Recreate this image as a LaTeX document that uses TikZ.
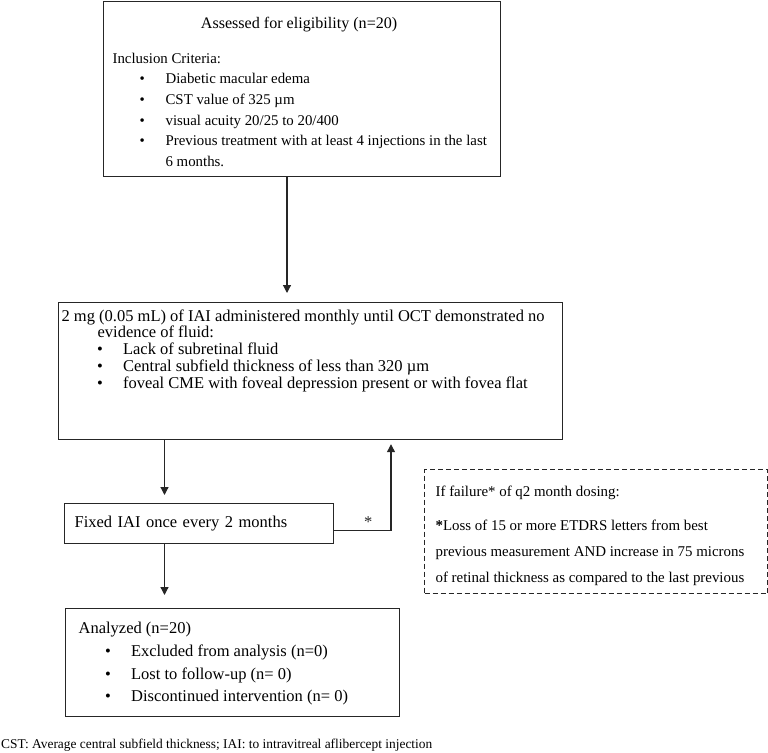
\documentclass[tikz,border=0pt]{standalone}
\usepackage{fontspec}
\setmainfont{Liberation Serif}
\usetikzlibrary{arrows.meta}

% bullet line inside a box
\newcommand{\bitem}[2][27pt]{\hspace*{#1}\makebox[26pt][l]{\textbullet}\mbox{#2}}

\begin{document}
\begin{tikzpicture}[x=1pt, y=-1pt, >={Triangle[length=8pt,width=8pt]},
    box/.style={draw=black!85, line width=1.2pt, anchor=north west, font=\fontsize{16.5}{20}\selectfont},
    link/.style={->, line width=1.2pt, black!85}]
    \useasboundingbox (0,0) rectangle (768,752);

    % Eligibility
    \node[box, inner xsep=9pt, inner ysep=15.9pt] (assess) at (103,1) {\parbox[c][143.2pt][t]{379pt}{%
        {\fontsize{16.1}{20}\selectfont\centering\hspace*{-6pt}Assessed for eligibility (n=20)\par}
        \vspace{13.9pt}
        \fontsize{14.85}{20.6}\selectfont\raggedright
        Inclusion Criteria:\\
        \bitem{Diabetic macular edema}\\
        \bitem{CST value of 325 µm}\\
        \bitem{visual acuity 20/25 to 20/400}\\
        \bitem{Previous treatment with at least 4 injections in the last}\\
        \hspace*{53pt}6 months.}};

    % Loading phase
    \node[box, inner xsep=3pt, inner ysep=7pt] (monthly) at (58,302) {\parbox[c][123pt][t]{498pt}{\raggedright
        2 mg (0.05 mL) of IAI administered monthly until OCT demonstrated no\\[-3.3pt]
        \hspace*{36pt}evidence of fluid:\\[-3.3pt]
        \bitem[35.5pt]{Lack of subretinal fluid}\\[-3.3pt]
        \bitem[35.5pt]{Central subfield thickness of less than 320 µm}\\[-3.3pt]
        \bitem[35.5pt]{foveal CME with foveal depression present or with fovea flat}}};

    % Fixed dosing
    \node[box, inner xsep=10pt, text width=249pt, minimum height=40pt, align=left] (fixed) at (64,503) {Fixed IAI once every 2 months};

    % Analysis
    \node[box, inner xsep=13pt, inner ysep=13.6pt] (analyzed) at (65,608) {\parbox[c][80.8pt][t]{308pt}{\raggedright
        Analyzed (n=20)\\[2.7pt]
        \bitem[26.5pt]{Excluded from analysis (n=0)}\\[2.7pt]
        \bitem[26.5pt]{Lost to follow-up (n= 0)}\\[2.7pt]
        \bitem[26.5pt]{Discontinued intervention (n= 0)}}};

    % Failure note
    \node[box, dash pattern=on 5pt off 3pt, inner xsep=11pt, inner ysep=16.4pt] (failure) at (424,469) {\parbox[c][91.2pt][t]{321pt}{%
        \fontsize{14.9}{26}\selectfont\raggedright
        If failure* of q2 month dosing:\\[8pt]
        \textbf{*}Loss of 15 or more ETDRS letters from best\\
        previous measurement AND increase in 75 microns\\
        of retinal thickness as compared to the last previous}};

    \node[anchor=base west, inner sep=0pt, font=\fontsize{13.4}{16}\selectfont] (note) at (1,748)
        {CST: Average central subfield thickness; IAI: to intravitreal aflibercept injection};

    % Connectors
    \coordinate (trunk) at (287,0);
    \coordinate (spine) at (164.5,0);
    \coordinate (loop) at (391,0);
    \draw[link, shorten >=9pt] (trunk |- assess.south) -- (trunk |- monthly.north);
    \draw[link, shorten >=8pt] (spine |- monthly.south) -- (spine |- fixed.north);
    \draw[link, shorten >=13pt] (spine |- fixed.south) -- (spine |- analyzed.north);
    \draw[link, shorten >=4pt] ([yshift=-7pt]fixed.east) -| (loop |- monthly.south)
        node[pos=0.3, above=0pt, inner sep=3pt, font=\fontsize{16.5}{20}\selectfont] (star) {*};
\end{tikzpicture}
\end{document}
